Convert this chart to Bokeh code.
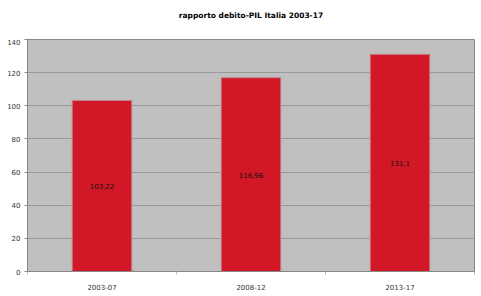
from bokeh.plotting import figure
from bokeh.models import ColumnDataSource, FixedTicker, Range1d
from bokeh.layouts import column
from bokeh.embed import file_html
from bokeh.resources import INLINE
from bokeh.core.properties import value

title_text = "rapporto debito-PIL Italia 2003-17"
periods = ["2003-07", "2008-12", "2013-17"]
ratios = [103.22, 116.96, 131.1]
labels = ["103,22", "116,96", "131,1"]
y_ticks = [0, 20, 40, 60, 80, 100, 120, 140]

# title strip
t = figure(width=481, height=38, output_backend="svg", toolbar_location=None,
           x_range=Range1d(0, 481), y_range=Range1d(0, 38),
           min_border=0, outline_line_color=None)
t.axis.visible = False
t.grid.visible = False
t.text(x=[240.5], y=[23], text=[title_text], text_align="center", text_baseline="middle",
       text_font=value("DejaVu Sans"), text_font_size="7.5px", text_font_style="bold",
       text_color="#000000")

xs = [i + 0.5 for i in range(len(periods))]
src = ColumnDataSource(dict(x=xs, top=ratios, mid=[r / 2 for r in ratios], lab=labels))

p = figure(width=481, height=258, output_backend="svg", toolbar_location=None,
           x_range=Range1d(0, 3), y_range=Range1d(0, 140),
           min_border_left=27, min_border_right=7, min_border_top=1, min_border_bottom=25)

p.background_fill_color = "#c0c0c0"
p.border_fill_color = "white"
p.outline_line_color = "#888888"
p.outline_line_width = 1

p.vbar(x="x", top="top", width=0.4, bottom=0, source=src,
       fill_color="#d21727", line_color="#c08890", line_width=1)
p.text(x="x", y="mid", text="lab", source=src, text_align="center", text_baseline="middle",
       text_font=value("DejaVu Sans"), text_font_size="7px", text_color="#111111")

p.xgrid.visible = False
p.ygrid.grid_line_color = "#999999"
p.ygrid.grid_line_width = 1
p.ygrid.ticker = FixedTicker(ticks=y_ticks)

ya = p.yaxis[0]
ya.ticker = FixedTicker(ticks=y_ticks)
ya.axis_line_color = "#888888"
ya.major_tick_line_color = "#888888"
ya.major_tick_out = 3
ya.major_tick_in = 0
ya.minor_tick_line_color = None
ya.major_label_text_font = "DejaVu Sans"
ya.major_label_text_font_size = "7px"
ya.major_label_text_color = "#333333"
ya.major_label_standoff = 4

xa = p.xaxis[0]
xa.ticker = FixedTicker(ticks=xs, minor_ticks=[0, 1, 2, 3])
xa.major_label_overrides = {x: lab for x, lab in zip(xs, periods)}
xa.axis_line_color = "#888888"
xa.major_tick_line_color = None
xa.minor_tick_line_color = "#bbbbbb"
xa.minor_tick_out = 3
xa.minor_tick_in = 0
xa.major_label_text_font = "DejaVu Sans"
xa.major_label_text_font_size = "7px"
xa.major_label_text_color = "#333333"
xa.major_label_standoff = 6

open("out.html", "w").write(file_html(column(t, p, spacing=0), INLINE))
